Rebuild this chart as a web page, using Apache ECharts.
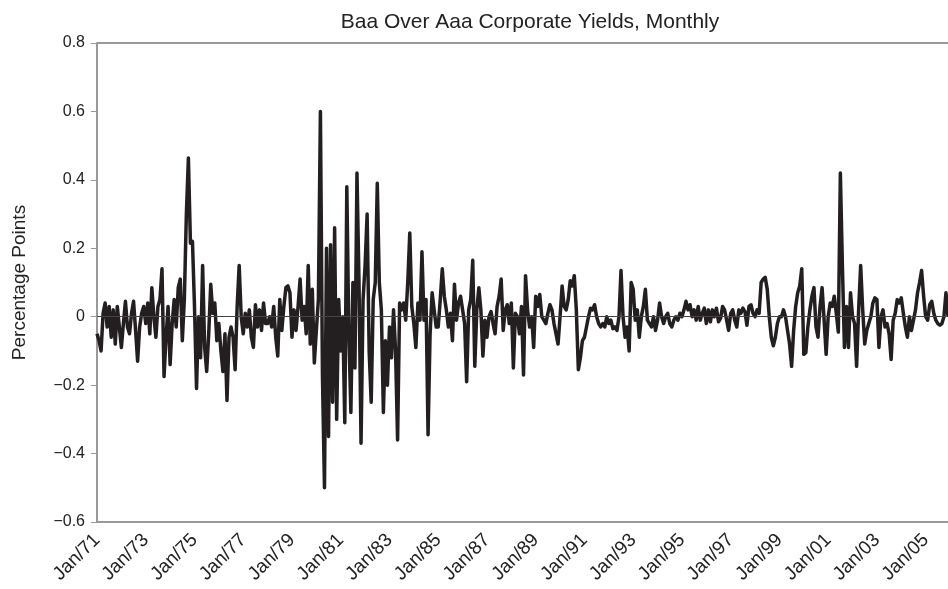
<!DOCTYPE html>
<html>
<head>
<meta charset="utf-8">
<title>Baa Over Aaa Corporate Yields, Monthly</title>
<script src="https://cdn.jsdelivr.net/npm/echarts@6/dist/echarts.min.js"></script>
<style>
  html, body { margin: 0; padding: 0; background: #fff; }
  #chart { width: 948px; height: 589px; }
</style>
</head>
<body>
<div id="chart"></div>
<script>
  // month names and years used to build the category axis
  var monthNames = ['Jan', 'Feb', 'Mar', 'Apr', 'May', 'Jun', 'Jul', 'Aug', 'Sep', 'Oct', 'Nov', 'Dec'];
  var firstYear = 1971;
  var lastYear = 2005;

  // monthly change of the Baa - Aaa spread, percentage points
  var spread1970s = [
    -0.05, -0.07, -0.10, 0.01, 0.04, -0.03, 0.03, -0.06, 0.02, -0.08, 0.03, -0.03,      // 1971
    -0.09, -0.02, 0.045, -0.03, -0.05, 0.01, 0.045, -0.04, -0.13, -0.03, 0.01, 0.03,    // 1972
    -0.02, 0.04, -0.05, 0.085, 0.0, -0.06, 0.03, 0.05, 0.14, -0.175, -0.06, 0.03,       // 1973
    -0.14, -0.02, 0.05, -0.03, 0.085, 0.11, -0.07, 0.05, 0.30, 0.464, 0.215, 0.22,      // 1974
    0.03, -0.21, 0.0, -0.12, 0.15, -0.09, -0.16, -0.05, 0.095, 0.01, 0.04, -0.07,       // 1975
    -0.02, -0.10, -0.16, -0.05, -0.245, -0.06, -0.03, -0.06, -0.155, 0.03, 0.15, 0.0,   // 1976
    -0.05, 0.01, -0.03, 0.02, -0.06, -0.09, 0.035, -0.03, 0.02, -0.04, 0.04, -0.02,     // 1977
    -0.02, 0.0, -0.03, 0.03, -0.06, -0.115, 0.05, -0.04, 0.03, 0.085, 0.09, 0.07,       // 1978
    -0.06, 0.02, -0.04, 0.03, 0.11, -0.01, 0.03, -0.05, 0.15, -0.08, 0.08, -0.135       // 1979
  ];
  var spread1980s = [
    -0.04, 0.05, 0.60, -0.17, -0.50, 0.20, -0.35, 0.21, -0.25, 0.26, -0.30, 0.05,       // 1980
    -0.10, 0.00, -0.31, 0.38, -0.05, -0.28, 0.10, -0.15, 0.42, 0.10, -0.37, 0.05,       // 1981
    0.15, 0.30, -0.10, -0.25, 0.05, 0.10, 0.39, 0.10, 0.02, -0.28, -0.07, -0.20,        // 1982
    -0.03, -0.12, 0.02, -0.10, -0.36, 0.04, 0.02, 0.04, -0.01, 0.10, 0.245, 0.03,       // 1983
    -0.02, -0.09, 0.04, -0.01, 0.19, -0.01, 0.05, -0.345, -0.05, 0.07, 0.02, -0.03,     // 1984
    -0.03, 0.05, 0.14, 0.06, 0.02, -0.03, 0.01, -0.07, 0.095, -0.01, 0.04, 0.06,        // 1985
    0.02, -0.02, -0.19, 0.02, 0.05, 0.165, -0.145, 0.02, 0.085, 0.02, -0.115, -0.01,    // 1986
    -0.06, 0.0, 0.015, -0.02, -0.05, 0.03, 0.06, 0.11, -0.04, 0.02, 0.035, -0.02,       // 1987
    0.04, -0.15, 0.01, 0.0, -0.05, 0.03, -0.17, 0.12, 0.02, -0.03, 0.0, -0.09,          // 1988
    0.06, 0.03, 0.065, 0.0, -0.01, -0.02, 0.01, 0.035, 0.02, -0.02, -0.05, -0.08        // 1989
  ];
  var spread1990s = [
    0.0, 0.09, 0.03, 0.02, 0.05, 0.105, 0.09, 0.12, 0.02, -0.155, -0.12, -0.07,         // 1990
    -0.06, -0.03, 0.0, 0.025, 0.02, 0.035, 0.0, -0.02, -0.03, -0.02, -0.03, 0.0,        // 1991
    -0.02, -0.01, -0.035, -0.03, -0.04, 0.0, 0.135, 0.0, -0.06, -0.03, -0.10, 0.10,     // 1992
    0.08, -0.01, 0.02, -0.06, 0.0, 0.03, 0.08, -0.01, -0.02, -0.03, 0.0, -0.04,         // 1993
    -0.01, 0.04, 0.0, -0.02, 0.0, 0.01, -0.02, -0.03, -0.01, 0.0, -0.01, 0.01,          // 1994
    0.0, 0.02, 0.045, 0.02, 0.035, 0.0, 0.02, -0.01, 0.03, -0.01, 0.01, 0.025,          // 1995
    -0.02, 0.02, -0.015, 0.02, 0.0, 0.025, -0.015, -0.005, 0.03, 0.02, -0.01, -0.04,    // 1996
    0.01, 0.02, -0.01, -0.03, 0.02, 0.01, 0.025, 0.015, -0.025, 0.03, 0.035, 0.01,      // 1997
    0.0, 0.02, 0.01, 0.10, 0.11, 0.115, 0.08, 0.0, -0.06, -0.085, -0.06, -0.02,         // 1998
    0.0, 0.0, 0.02, 0.0, -0.04, -0.08, -0.145, -0.04, 0.03, 0.07, 0.09, 0.14            // 1999
  ];
  var spread2000s = [
    -0.11, -0.105, -0.03, 0.02, 0.06, 0.085, -0.03, -0.06, 0.03, 0.085, -0.01, -0.11,   // 2000
    0.0, 0.04, 0.03, 0.06, 0.01, -0.045, 0.42, 0.15, -0.09, 0.03, -0.09, 0.07,          // 2001
    0.0, -0.02, -0.145, 0.02, 0.15, 0.02, -0.08, -0.04, -0.02, 0.0, 0.04, 0.055,        // 2002
    0.05, -0.09, 0.0, 0.02, -0.03, -0.02, -0.05, -0.125, -0.01, 0.01, 0.05, 0.04,       // 2003
    0.055, 0.01, -0.03, -0.06, 0.0, -0.04, -0.01, 0.02, 0.07, 0.10, 0.135, 0.06,        // 2004
    0.0, -0.01, 0.035, 0.045, 0.01, -0.01, -0.02, -0.025, -0.02, 0.0, 0.07, 0.0         // 2005
  ];

  var spreadValues = spread1970s.concat(spread1980s, spread1990s, spread2000s);

  // categories like "Jan/71"
  var months = [];
  for (var y = firstYear; y <= lastYear; y++) {
    for (var m = 0; m < 12; m++) {
      months.push(monthNames[m] + '/' + String(y).slice(2));
    }
  }

  var myChart = echarts.init(document.getElementById('chart'), null, { renderer: 'canvas' });

  myChart.setOption({
    animation: false,
    backgroundColor: '#fff',
    textStyle: { fontFamily: 'Liberation Sans, Arial, sans-serif' },
    title: {
      text: 'Baa Over Aaa Corporate Yields, Monthly',
      left: 525,
      top: 7,
      textAlign: 'center',
      textStyle: { fontSize: 21, fontWeight: 'normal', color: '#222', fontFamily: 'Liberation Sans, Arial, sans-serif' }
    },
    grid: { left: 97, right: 0, top: 43, bottom: 67 },
    xAxis: {
      type: 'category',
      data: months,
      boundaryGap: false,
      axisLine: { onZero: false, lineStyle: { color: '#999', width: 2 } },
      axisTick: { show: false },
      axisLabel: {
        interval: function (idx) { return idx % 24 === 0; },
        rotate: 45,
        margin: 15,
        fontSize: 19,
        color: '#222'
      },
      splitLine: { show: false }
    },
    yAxis: {
      type: 'value',
      min: -0.6,
      max: 0.8,
      interval: 0.2,
      name: 'Percentage Points',
      nameLocation: 'middle',
      nameGap: 68,
      nameTextStyle: { fontSize: 19, color: '#222' },
      axisLine: { show: true, lineStyle: { color: '#999', width: 2 } },
      axisTick: { show: true, length: 6, lineStyle: { color: '#999', width: 1 } },
      axisLabel: {
        fontSize: 16,
        color: '#222',
        margin: 12,
        formatter: function (v) {
          if (Math.abs(v) < 1e-9) return '0';
          return (v < 0 ? '\u2212' : '') + Math.abs(v).toFixed(1);
        }
      },
      splitLine: { show: false }
    },
    series: [{
      name: 'Baa - Aaa',
      type: 'line',
      data: spreadValues,
      showSymbol: false,
      lineStyle: { color: '#231f20', width: 3.5, join: 'round' },
      z: 3,
      markLine: {
        silent: true,
        symbol: 'none',
        label: { show: false },
        data: [
          { yAxis: 0, lineStyle: { color: '#444', width: 1, type: 'solid' } },
          { yAxis: 0.8, lineStyle: { color: '#999', width: 2, type: 'solid' } }
        ]
      }
    }]
  });
</script>
</body>
</html>
